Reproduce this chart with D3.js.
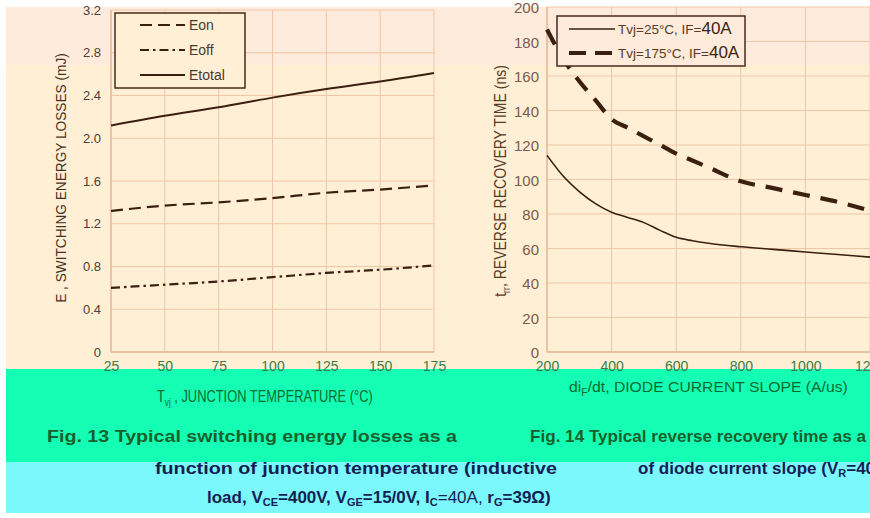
<!DOCTYPE html>
<html>
<head>
<meta charset="utf-8">
<script src="https://cdn.jsdelivr.net/npm/d3@7"></script>
<style>
  html, body { margin: 0; padding: 0; background: #fff; }
  svg { display: block; }
  text { font-family: "Liberation Sans", Arial, sans-serif; }
</style>
</head>
<body>
<div id="chart"></div>
<script>
// Fig. 13: switching energy losses vs junction temperature
const tempC  = [25, 50, 75, 100, 125, 150, 175];
const eOn    = [1.32, 1.37, 1.40, 1.44, 1.49, 1.52, 1.56];
const eOff   = [0.60, 0.63, 0.66, 0.70, 0.74, 0.77, 0.81];
const eTotal = [2.12, 2.21, 2.29, 2.38, 2.46, 2.53, 2.61];
const energyTicks = [0, 0.4, 0.8, 1.2, 1.6, 2.0, 2.4, 2.8, 3.2];
const tempTicks = [25, 50, 75, 100, 125, 150, 175];

// Fig. 14: reverse recovery time vs diode current slope
const diSlope = [200, 250, 300, 350, 400, 450, 500, 550, 600, 650, 700, 800, 900, 1000, 1100, 1200];
const trr25   = [114, 102, 93, 86, 81, 78, 75, 70.5, 66.5, 64.5, 63, 61, 59.5, 58, 56.5, 55];
const trr175  = [187, 170, 157, 146, 135, 130, 125, 120, 115, 111, 107, 99, 95, 91, 87, 82];
const trrTicks = [0, 20, 40, 60, 80, 100, 120, 140, 160, 180, 200];
const slopeTicks = [200, 400, 600, 800, 1000, 1200];

const W = 870, H = 518;
const svg = d3.select("#chart").append("svg").attr("width", W).attr("height", H);

const C = {
  cream: "#FFF0D5", blush: "#FEEBDB", grid: "#F0C6A6", axis: "#E6B796",
  teal: "#14FFB4", cyan: "#7AF8FC", ink: "#3B1F10",
  tick1: "#4E4038", tick2: "#7B5B4B", xtick: "#3F7A48", green: "#0B6B2E", navy: "#141E55"
};

// page bands
svg.append("rect").attr("x", 6).attr("y", 7).attr("width", W - 6).attr("height", 362).attr("fill", C.cream);
svg.append("rect").attr("x", 6).attr("y", 7).attr("width", W - 6).attr("height", 58).attr("fill", C.blush);
svg.append("rect").attr("x", 6).attr("y", 369).attr("width", W - 6).attr("height", 93).attr("fill", C.teal);
svg.append("rect").attr("x", 6).attr("y", 462).attr("width", W - 6).attr("height", 51).attr("fill", C.cyan);

function grid(g, x, y, xt, yt) {
  const [x0, x1] = x.range(), [y0, y1] = y.range();
  g.selectAll(".gx").data(xt).join("line")
    .attr("x1", d => x(d)).attr("x2", d => x(d)).attr("y1", y0).attr("y2", y1)
    .attr("stroke", C.grid).attr("stroke-width", 1);
  g.selectAll(".gy").data(yt).join("line")
    .attr("x1", x0).attr("x2", x1).attr("y1", d => y(d)).attr("y2", d => y(d))
    .attr("stroke", C.grid).attr("stroke-width", 1);
  g.append("line").attr("x1", x0).attr("x2", x0).attr("y1", y0).attr("y2", y1).attr("stroke", C.axis).attr("stroke-width", 1.3);
  g.append("line").attr("x1", x0).attr("x2", x1).attr("y1", y0).attr("y2", y0).attr("stroke", C.axis).attr("stroke-width", 1.3);
}

function tickText(axisSel, color, size) {
  axisSel.select(".domain").remove();
  axisSel.selectAll(".tick line").remove();
  axisSel.selectAll(".tick text").attr("fill", color).attr("font-size", size)
    .attr("font-family", "'Liberation Sans', Arial, sans-serif");
}

// squeeze a title horizontally (in its own frame) to a target width
function fitWidth(t, width) {
  const w = t.node().getComputedTextLength();
  t.attr("transform", (t.attr("transform") || "") + ` scale(${width / w},1)`);
}

function withSub(t, base, s, rest, subSize) {
  t.append("tspan").text(base);
  t.append("tspan").attr("font-size", subSize).attr("dy", 4).text(s);
  t.append("tspan").attr("dy", -4).text(rest);
}

// ---------------- Fig. 13 ----------------
const x1 = d3.scaleLinear([25, 175], [111, 434]);
const y1 = d3.scaleLinear([0, 3.2], [352, 10]);
const g1 = svg.append("g");
grid(g1, x1, y1, tempTicks, energyTicks);

g1.append("g").attr("transform", "translate(101,0)")
  .call(d3.axisLeft(y1).tickValues(energyTicks).tickSize(0).tickPadding(0)
    .tickFormat(d => d === 0 ? "0" : d3.format(".1f")(d)))
  .call(s => tickText(s, C.tick1, 13));
g1.append("g").attr("transform", "translate(0,361)")
  .call(d3.axisBottom(x1).tickValues(tempTicks).tickSize(0).tickPadding(0))
  .call(s => tickText(s, C.xtick, 14));

const line1 = vals => d3.line().x((d, i) => x1(tempC[i])).y(d => y1(d)).curve(d3.curveMonotoneX)(vals);
g1.append("path").attr("d", line1(eTotal)).attr("fill", "none").attr("stroke", C.ink).attr("stroke-width", 2);
g1.append("path").attr("d", line1(eOn)).attr("fill", "none").attr("stroke", C.ink).attr("stroke-width", 2.2)
  .attr("stroke-dasharray", "12 6");
g1.append("path").attr("d", line1(eOff)).attr("fill", "none").attr("stroke", C.ink).attr("stroke-width", 2.2)
  .attr("stroke-dasharray", "9 4 2.5 4");

// legend
const lg1 = g1.append("g");
lg1.append("rect").attr("x", 115).attr("y", 13).attr("width", 130).attr("height", 75)
  .attr("fill", C.cream).attr("stroke", "#4A2A18").attr("stroke-width", 1.5);
const leg1 = [
  { name: "Eon", dash: "12 6" },
  { name: "Eoff", dash: "9 4 2.5 4" },
  { name: "Etotal", dash: null }
];
leg1.forEach((d, i) => {
  const yy = 25 + i * 25;
  lg1.append("line").attr("x1", 140).attr("x2", 185).attr("y1", yy).attr("y2", yy)
    .attr("stroke", C.ink).attr("stroke-width", 2).attr("stroke-dasharray", d.dash);
  lg1.append("text").attr("x", 189).attr("y", yy + 5).attr("font-size", 14).attr("fill", "#4A3A30").text(d.name);
});

// axis titles
const yt1 = svg.append("text").attr("transform", "translate(66,178) rotate(-90)").attr("text-anchor", "middle")
  .attr("font-size", 15).attr("fill", "#4A3020")
  .text("E , SWITCHING ENERGY LOSSES (mJ)");
fitWidth(yt1, 250);
const xt1 = svg.append("text").attr("transform", "translate(157,402)").attr("font-size", 16).attr("fill", C.green);
withSub(xt1, "T", "vj", " , JUNCTION TEMPERATURE (°C)", 10);
fitWidth(xt1, 216);

// ---------------- Fig. 14 ----------------
const x2 = d3.scaleLinear([200, 1200], [547, 870]);
const y2 = d3.scaleLinear([0, 200], [352, 7]);
const g2 = svg.append("g");
grid(g2, x2, y2, slopeTicks, trrTicks);

g2.append("g").attr("transform", "translate(539,1)")
  .call(d3.axisLeft(y2).tickValues(trrTicks).tickSize(0).tickPadding(0))
  .call(s => tickText(s, C.tick2, 15));
g2.append("g").attr("transform", "translate(0,361)")
  .call(d3.axisBottom(x2).tickValues(slopeTicks).tickSize(0).tickPadding(0).tickFormat(d3.format("d")))
  .call(s => tickText(s, C.xtick, 14));

const line2 = vals => d3.line().x((d, i) => x2(diSlope[i])).y(d => y2(d)).curve(d3.curveMonotoneX)(vals);
g2.append("path").attr("d", line2(trr25)).attr("fill", "none").attr("stroke", C.ink).attr("stroke-width", 1.6);
g2.append("path").attr("d", line2(trr175)).attr("fill", "none").attr("stroke", C.ink).attr("stroke-width", 4.2)
  .attr("stroke-dasharray", "17 11");

const lg2 = g2.append("g");
lg2.append("rect").attr("x", 557).attr("y", 16).attr("width", 188).attr("height", 50)
  .attr("fill", C.blush).attr("stroke", "#4A2A18").attr("stroke-width", 1.5);
const leg2 = [
  { name: "Tvj=25°C,  IF=", cur: "40A", dash: null, w: 1.6 },
  { name: "Tvj=175°C,  IF=", cur: "40A", dash: "17 9", w: 4.2 }
];
leg2.forEach((d, i) => {
  const yy = 29 + i * 24;
  lg2.append("line").attr("x1", 569).attr("x2", 615).attr("y1", yy).attr("y2", yy)
    .attr("stroke", C.ink).attr("stroke-width", d.w).attr("stroke-dasharray", d.dash);
  const t = lg2.append("text").attr("x", 618).attr("y", yy + 5).attr("font-size", 13.5).attr("fill", "#5A3A20");
  t.append("tspan").text(d.name);
  t.append("tspan").attr("font-size", 17).attr("fill", "#3A2410").text(d.cur);
});

const yt2 = svg.append("text").attr("transform", "translate(506,181) rotate(-90)").attr("text-anchor", "middle")
  .attr("font-size", 16).attr("fill", "#5A3A28");
withSub(yt2, "t", "rr", ", REVERSE RECOVERY TIME (ns)", 10);
fitWidth(yt2, 232);
const xt2 = svg.append("text").attr("transform", "translate(569,392)").attr("font-size", 15).attr("fill", C.green);
withSub(xt2, "di", "F", "/dt, DIODE CURRENT SLOPE (A/us)", 10);
fitWidth(xt2, 279);

// ---------------- captions ----------------
const cap = svg.append("g").attr("font-weight", "bold");
cap.append("text").attr("x", 47).attr("y", 442).attr("font-size", 17).attr("fill", "#17602C")
  .attr("textLength", 410).attr("lengthAdjust", "spacingAndGlyphs")
  .text("Fig. 13 Typical switching energy losses as a");
cap.append("text").attr("x", 155).attr("y", 474).attr("font-size", 17).attr("fill", C.navy)
  .attr("textLength", 402).attr("lengthAdjust", "spacingAndGlyphs")
  .text("function of junction temperature (inductive");
const l3 = cap.append("text").attr("x", 207).attr("y", 503).attr("font-size", 17).attr("fill", C.navy);
l3.append("tspan").text("load, V");
l3.append("tspan").attr("font-size", 11).attr("dy", 3).text("CE");
l3.append("tspan").attr("dy", -3).text("=400V, V");
l3.append("tspan").attr("font-size", 11).attr("dy", 3).text("GE");
l3.append("tspan").attr("dy", -3).text("=15/0V, I");
l3.append("tspan").attr("font-size", 11).attr("dy", 3).text("C");
l3.append("tspan").attr("dy", -3).attr("font-weight", "normal").text("=40A, ");
l3.append("tspan").text("r");
l3.append("tspan").attr("font-size", 11).attr("dy", 3).text("G");
l3.append("tspan").attr("dy", -3).text("=39Ω)");

cap.append("text").attr("x", 530).attr("y", 442).attr("font-size", 17).attr("fill", "#17602C")
  .attr("textLength", 336).attr("lengthAdjust", "spacingAndGlyphs")
  .text("Fig. 14 Typical reverse recovery time as a");
const r2 = cap.append("text").attr("x", 638).attr("y", 474).attr("font-size", 17).attr("fill", C.navy);
r2.append("tspan").text("of diode current slope (V");
r2.append("tspan").attr("font-size", 11).attr("dy", 3).text("R");
r2.append("tspan").attr("dy", -3).text("=400V)");
</script>
</body>
</html>
